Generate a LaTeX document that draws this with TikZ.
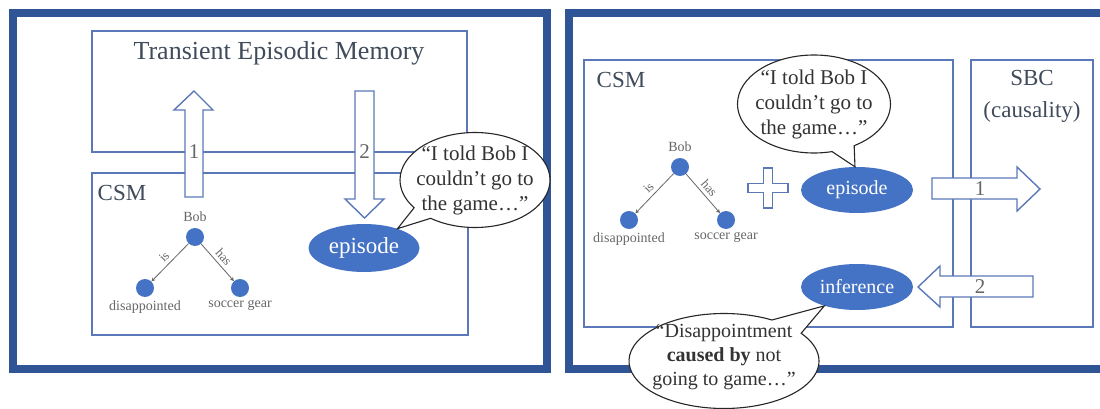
\documentclass[tikz,border=0pt]{standalone}
\usepackage{fontspec}
\setmainfont{Liberation Serif}
\usetikzlibrary{shapes.geometric, shapes.callouts}
\usetikzlibrary{arrows.meta}
\usetikzlibrary{positioning}

\definecolor{frameblue}{HTML}{2F5597}
\definecolor{boxblue}{HTML}{5B78B8}
\definecolor{dotblue}{HTML}{4472C4}
\definecolor{headgray}{HTML}{3F4A5A}
\definecolor{treegray}{HTML}{666666}

\begin{document}
\begin{tikzpicture}[
    x=1pt, y=-1pt,
    frame/.style={line width=8.5pt, frameblue},
    memory/.style={line width=1.6pt, boxblue},
    blockarrow/.style={line width=1.4pt, boxblue, fill=white, line join=miter},
    title/.style={headgray, font=\fontsize{26}{30}\selectfont},
    boxname/.style={headgray, font=\fontsize{23}{32}\selectfont, align=center},
    stepnum/.style={treegray, font=\fontsize{21}{25}\selectfont, inner sep=0pt},
    concept/.style={circle, fill=dotblue, minimum size=18pt, inner sep=0pt},
    conceptname/.style={treegray, font=\fontsize{14}{16}\selectfont, inner sep=1pt},
    relation/.style={draw=treegray, line width=0.8pt, -{Stealth[length=4pt, width=4pt]}},
    relname/.style={treegray, font=\fontsize{13}{15}\selectfont, inner sep=0.5pt},
    unit/.style={ellipse, fill=dotblue, text=white, inner sep=0pt},
    bubble/.style={ellipse callout, draw=black!85, line width=1.1pt, fill=white, callout pointer arc=18},
    said/.style={black!80, align=center}
]
\useasboundingbox (0,0) rectangle (1100,409);

% Left panel
\draw[frame] (13,13) rectangle (547,369);
\draw[memory] (92,31) rectangle (467,152);
\draw[memory] (92,173) rectangle (468,335);
\node[title] (temL) at (279,53) {Transient Episodic Memory};
\node[boxname] (csmL) at (122,193) {CSM};

% Store and recall arrows
\draw[blockarrow] (185,197) -- (185,110) -- (174,110) -- (194,91) -- (213,110) -- (203,110) -- (203,197) -- cycle;
\draw[blockarrow] (355,91) -- (355,199) -- (345,199) -- (364.5,218) -- (384,199) -- (374,199) -- (374,91) -- cycle;
\node[stepnum] (oneL) at (194,152) {1};
\node[stepnum] (twoL) at (364.5,152) {2};

\node[concept, label={[conceptname, label distance=5pt]above:Bob}] (bobL) at (195,237) {};
\node[concept, label={[conceptname, label distance=2pt]below:disappointed}] (disL) at (145,288) {};
\node[concept, label={[conceptname, label distance=2pt]below:soccer gear}] (gearL) at (240,288) {};
\draw[relation] (bobL) -- node[relname, sloped, above=3pt] (isL) {is} (disL);
\draw[relation] (bobL) -- node[relname, sloped, above=3pt] (hasL) {has} (gearL);

\node[unit, minimum width=111pt, minimum height=48pt, font=\fontsize{23}{27}\selectfont] (epL) at (364,248) {episode};
\node[bubble, minimum width=150pt, minimum height=95pt, callout absolute pointer={(epL.30)}] (bubL) at (475,180) {};
\node[said, font=\fontsize{21}{25}\selectfont] (saidL) at (bubL.center) {“I told Bob I\\couldn’t go to\\the game…”};

% Right panel
\draw[frame] (569,13) rectangle (1112,369);
\draw[memory] (584,60) rectangle (953,327);
\draw[memory] (971,60) rectangle (1093,327);
\node[boxname] (csmR) at (621,80) {CSM};
\node[boxname] (sbcR) at (1032,96) {SBC\\(causality)};

\node[concept, label={[conceptname, label distance=5pt]above:Bob}] (bobR) at (680,167) {};
\node[concept, label={[conceptname, label distance=2pt]below:disappointed}] (disR) at (629,220) {};
\node[concept, label={[conceptname, label distance=2pt]below:soccer gear}] (gearR) at (726,220) {};
\draw[relation] (bobR) -- node[relname, sloped, above=3pt] (isR) {is} (disR);
\draw[relation] (bobR) -- node[relname, sloped, above=3pt] (hasR) {has} (gearR);

% Plus sign
\draw[blockarrow] (763.5,168) -- ++(9,0) -- ++(0,15.5) -- ++(15.5,0) -- ++(0,9) -- ++(-15.5,0) -- ++(0,15.5) -- ++(-9,0) -- ++(0,-15.5) -- ++(-15.5,0) -- ++(0,-9) -- ++(15.5,0) -- cycle;

% Ask and answer arrows
\draw[blockarrow] (932,178) -- (1017,178) -- (1017,167) -- (1040,189) -- (1017,211) -- (1017,199) -- (932,199) -- cycle;
\draw[blockarrow] (1033,276) -- (940,276) -- (940,266) -- (918,287) -- (940,307) -- (940,297) -- (1033,297) -- cycle;
\node[stepnum] (oneR) at (980,189) {1};
\node[stepnum] (twoR) at (980,287) {2};

\node[unit, minimum width=112pt, minimum height=46pt, font=\fontsize{20}{24}\selectfont] (epR) at (857,190) {episode};
\node[unit, minimum width=112pt, minimum height=46pt, font=\fontsize{20}{24}\selectfont] (infR) at (857,287) {inference};

\node[bubble, minimum width=153pt, minimum height=98pt, callout absolute pointer={(epR.95)}] (bubR) at (814,104) {};
\node[said, font=\fontsize{21}{25}\selectfont] (saidR) at (bubR.center) {“I told Bob I\\couldn’t go to\\the game…”};
\node[bubble, minimum width=190pt, minimum height=95pt, callout absolute pointer={(infR.210)}, callout pointer arc=24] (bubI) at (724,361) {};
\node[said, font=\fontsize{20}{24}\selectfont] (saidI) at (724,357) {“Disappointment\\\textbf{caused by} not\\going to game…”};
\end{tikzpicture}
\end{document}
